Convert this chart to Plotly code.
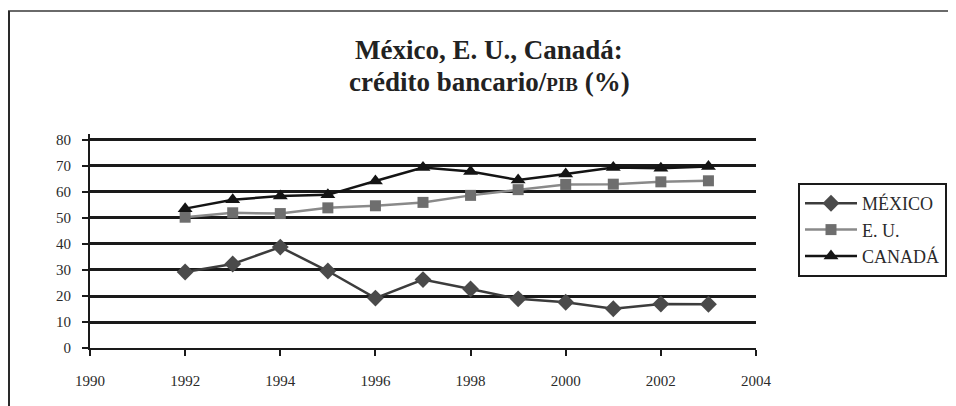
import plotly.graph_objects as go

years = [1992, 1993, 1994, 1995, 1996, 1997, 1998, 1999, 2000, 2001, 2002, 2003]
mexico = [29.2, 32.3, 38.8, 29.6, 19.2, 26.3, 22.7, 18.9, 17.6, 15.1, 16.9, 16.8]
eu = [50.3, 52.0, 51.7, 53.9, 54.7, 56.0, 58.7, 60.9, 62.9, 63.0, 63.9, 64.3]
canada = [53.6, 57.0, 58.5, 58.9, 64.2, 69.4, 67.9, 64.6, 66.9, 69.4, 69.1, 69.8]
names = ["MÉXICO", "E. U.", "CANADÁ"]
x_ticks = [1990, 1992, 1994, 1996, 1998, 2000, 2002, 2004]
y_ticks = [0, 10, 20, 30, 40, 50, 60, 70, 80]

SERIF = "Liberation Serif"

# page offset (browser body margin)
OX, OY = 8, 8
W, H = 956 - OX, 406 - OY
L, T = 90 - OX, 134 - OY
PW, PH = 666, 214


def px(xp):
    return (xp - OX - L) / PW


def py(yp):
    return (T + PH - (yp - OY)) / PH


fig = go.Figure()
fig.add_trace(go.Scatter(x=years, y=mexico, name=names[0], mode="lines+markers",
                         line=dict(color="#3c3c3c", width=2.5),
                         marker=dict(symbol="diamond", size=13, color="#4a4a4a")))
fig.add_trace(go.Scatter(x=years, y=eu, name=names[1], mode="lines+markers",
                         line=dict(color="#8a8a8a", width=2.5),
                         marker=dict(symbol="square", size=11, color="#6e6e6e")))
fig.add_trace(go.Scatter(x=years, y=canada, name=names[2], mode="lines+markers",
                         line=dict(color="#141414", width=2.5),
                         marker=dict(symbol="triangle-up", size=13, color="#141414")))

fig.update_layout(
    width=W, height=H,
    margin=dict(l=L, r=W - L - PW, t=T, b=H - T - PH, autoexpand=False),
    paper_bgcolor="white", plot_bgcolor="white",
    font=dict(family=SERIF, color="#2a2a2a", size=15),
    showlegend=True,
    legend=dict(x=px(798), y=py(183), xanchor="left", yanchor="top",
                bordercolor="#1a1a1a", borderwidth=2, bgcolor="white",
                font=dict(family=SERIF, size=18, color="#2a2a2a"),
                itemwidth=52),
    xaxis=dict(range=[1990, 2004], tickvals=x_ticks, ticktext=[str(v) for v in x_ticks],
               showgrid=False, zeroline=False, showline=True, linecolor="#1a1a1a", linewidth=2,
               ticks="outside", ticklen=6, tickwidth=2, tickcolor="#1a1a1a",
               ticklabelstandoff=12,
               tickfont=dict(family=SERIF, size=15, color="#2a2a2a")),
    yaxis=dict(range=[0, 82.3], tickvals=y_ticks, ticktext=[str(v) for v in y_ticks],
               showgrid=True, gridcolor="#1a1a1a", gridwidth=2.5, zeroline=False,
               showline=True, linecolor="#1a1a1a", linewidth=2,
               ticks="outside", ticklen=6, tickwidth=2, tickcolor="#1a1a1a",
               ticklabelstandoff=8,
               tickfont=dict(family=SERIF, size=15, color="#2a2a2a")),
)

fig.add_annotation(text="<b>México, E. U., Canadá:</b>", xref="paper", yref="paper",
                   x=px(489), y=py(50), xanchor="center", yanchor="middle",
                   showarrow=False, font=dict(family=SERIF, size=27, color="#222222"))
fig.add_annotation(text="<b>crédito bancario/<span style='font-size:19px'>PIB</span> (%)</b>",
                   xref="paper", yref="paper",
                   x=px(489), y=py(82), xanchor="center", yanchor="middle",
                   showarrow=False, font=dict(family=SERIF, size=27, color="#222222"))

# outer frame
fig.add_shape(type="line", xref="paper", yref="paper",
              x0=px(8), x1=px(960), y0=py(11), y1=py(11),
              line=dict(color="#6a6a6a", width=2))
fig.add_shape(type="line", xref="paper", yref="paper",
              x0=px(9), x1=px(9), y0=py(11), y1=py(410),
              line=dict(color="#2a2a2a", width=2))

fig.write_html("out.html")
